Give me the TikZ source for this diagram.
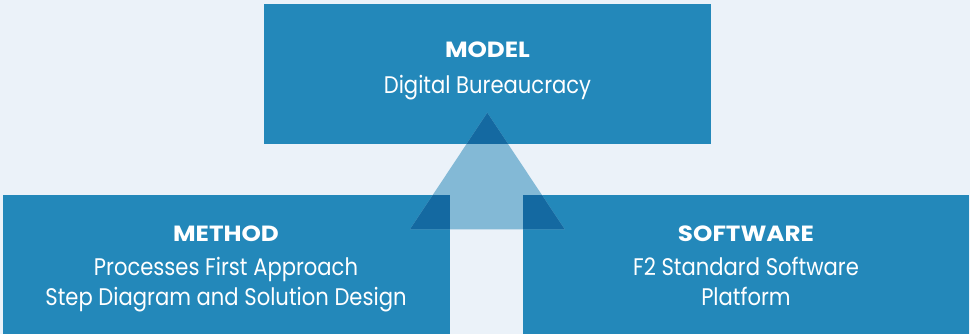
\documentclass[tikz,border=0pt]{standalone}
\usepackage{fontspec}
\setmainfont{Poppins}[FakeStretch=0.88]
\newfontfamily\headfont{Poppins}[FakeStretch=1.12]
\definecolor{pagebg}{HTML}{EBF2F9}
\definecolor{boxblue}{HTML}{2388BA}
\definecolor{arrowlight}{HTML}{83B9D6}
\definecolor{arrowdark}{HTML}{1469A1}
\tikzset{
  pillar/.style={fill=boxblue, inner sep=0pt, outer sep=0pt, anchor=north west},
  headtext/.style={text=white, font=\headfont\fontsize{22}{26}\selectfont\bfseries, anchor=base, inner sep=0pt},
  bodytext/.style={text=white, font=\fontsize{24}{28}\selectfont, anchor=base, inner sep=0pt},
}
\begin{document}
\begin{tikzpicture}[x=1pt, y=-1pt]
    % Background
    \fill[pagebg] (0,0) rectangle (970,334);
    % Three boxes
    \node[pillar, minimum width=447pt, minimum height=140pt] (model) at (264,4) {};
    \node[pillar, minimum width=447pt, minimum height=139pt] (method) at (3,195) {};
    \node[pillar, minimum width=446pt, minimum height=139pt] (software) at (523,195) {};
    % Arrow head
    \coordinate (tip) at (487.3,112.7);
    \coordinate (baseL) at (410,229.3);
    \coordinate (baseR) at (564.7,229.3);
    \fill[arrowlight] (tip) -- (baseL) -- (baseR) -- cycle;
    \begin{scope}
        \clip (tip) -- (baseL) -- (baseR) -- cycle;
        \foreach \b in {model, method, software} {
            \fill[arrowdark] (\b.north west) rectangle (\b.south east);
        }
    \end{scope}
    % Labels
    \node[headtext] (modelhead) at (487.5,57.7) {MODEL};
    \node[bodytext] (modelbody) at (487.5,93.3) {Digital Bureaucracy};
    \node[headtext] (methodhead) at (226,241) {METHOD};
    \node[bodytext] (methodbody) at (226,275) {Processes First Approach};
    \node[bodytext] (methodbodyb) at (226,305.7) {Step Diagram and Solution Design};
    \node[headtext] (softwarehead) at (746,241) {SOFTWARE};
    \node[bodytext] (softwarebody) at (746,275) {F2 Standard Software};
    \node[bodytext] (softwarebodyb) at (746,305.7) {Platform};
\end{tikzpicture}
\end{document}
